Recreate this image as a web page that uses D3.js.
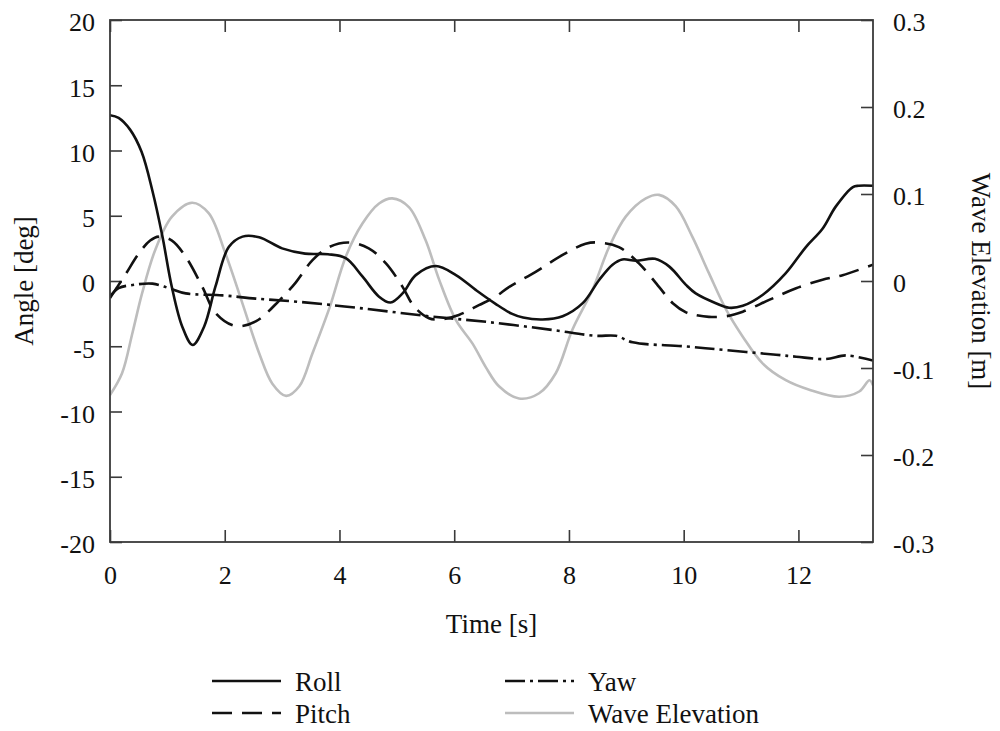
<!DOCTYPE html>
<html>
<head>
<meta charset="utf-8">
<script src="https://cdn.jsdelivr.net/npm/d3@7/dist/d3.min.js"></script>
<style>
  html, body { margin: 0; padding: 0; background: #fff; }
  svg text { font-family: "Liberation Serif", "Times New Roman", serif; fill: #111; }
</style>
</head>
<body>
<svg id="chart" width="1000" height="731"></svg>
<script>
// Time histories: [time (s), value]
const roll = [
  [0, 12.7], [0.15, 12.5], [0.35, 11.6], [0.55, 9.9], [0.74, 6.9], [0.91, 3.5],
  [1.08, -0.5], [1.26, -3.5], [1.44, -4.9], [1.64, -3.5], [1.84, -0.4], [2.07, 2.6],
  [2.31, 3.4], [2.6, 3.35], [3.0, 2.5], [3.4, 2.1], [3.8, 2.05], [4.11, 1.75],
  [4.4, 0.35], [4.69, -1.2], [4.89, -1.65], [5.1, -0.95], [5.33, 0.45], [5.68, 1.15],
  [6.03, 0.45], [6.38, -0.7], [6.72, -1.75], [7.0, -2.5], [7.2, -2.8], [7.54, -2.95],
  [7.89, -2.7], [8.24, -1.7], [8.53, 0.1], [8.76, 1.25], [8.93, 1.65], [9.17, 1.55],
  [9.5, 1.7], [9.75, 1.1], [10.04, -0.3], [10.21, -0.95], [10.56, -1.7], [10.79, -2.05],
  [11.03, -1.9], [11.38, -1.05], [11.78, 0.6], [12.13, 2.6], [12.42, 4.0], [12.65, 5.7],
  [12.95, 7.2], [13.05, 7.3], [13.3, 7.3]
];

const pitch = [
  [0, -1.3], [0.12, -0.5], [0.27, 0.5], [0.5, 2.1], [0.7, 3.1], [0.85, 3.4],
  [1.08, 3.1], [1.32, 1.85], [1.61, -0.45], [1.84, -2.45], [2.19, -3.45], [2.54, -3.1],
  [2.95, -1.5], [3.24, -0.1], [3.53, 1.6], [3.82, 2.6], [4.17, 2.95], [4.51, 2.5],
  [4.81, 1.35], [5.1, -0.45], [5.3, -1.95], [5.56, -2.85], [5.74, -2.95], [6.08, -2.6],
  [6.43, -1.85], [6.72, -1.2], [6.96, -0.45], [7.42, 0.7], [7.89, 2.0], [8.29, 2.85],
  [8.5, 2.95], [8.87, 2.6], [9.22, 1.35], [9.57, -0.45], [9.81, -1.7], [10.04, -2.4],
  [10.15, -2.55], [10.44, -2.75], [10.74, -2.7], [11.03, -2.35], [11.49, -1.45],
  [11.96, -0.55], [12.42, 0.1], [12.77, 0.45], [13.3, 1.25]
];

const yaw = [
  [0, -1.2], [0.15, -0.55], [0.44, -0.28], [0.74, -0.2], [1.03, -0.55], [1.32, -0.95],
  [1.96, -1.1], [2.54, -1.35], [3.3, -1.6], [4.4, -2.1], [5.56, -2.7], [6.6, -3.15],
  [7.71, -3.75], [8.47, -4.2], [8.82, -4.2], [9.11, -4.7], [10.0, -5.0], [10.74, -5.3],
  [11.61, -5.65], [11.96, -5.8], [12.48, -5.98], [12.83, -5.7], [13.3, -6.1]
];

// Wave elevation in metres (right axis)
const wave = [
  [0, -0.131], [0.21, -0.106], [0.39, -0.060], [0.56, -0.014], [0.79, 0.036], [1.08, 0.074],
  [1.43, 0.090], [1.72, 0.078], [2.01, 0.032], [2.31, -0.026], [2.60, -0.083], [2.83, -0.118],
  [3.07, -0.132], [3.30, -0.121], [3.53, -0.083], [3.83, -0.030], [4.11, 0.028], [4.40, 0.066],
  [4.69, 0.089], [4.92, 0.095], [5.21, 0.085], [5.50, 0.047], [5.74, 0.001], [6.03, -0.045],
  [6.32, -0.072], [6.55, -0.099], [6.78, -0.121], [7.13, -0.135], [7.48, -0.129], [7.77, -0.106],
  [8.06, -0.056], [8.41, -0.010], [8.70, 0.039], [8.99, 0.074], [9.34, 0.095], [9.57, 0.099],
  [9.86, 0.086], [10.15, 0.051], [10.44, 0.009], [10.74, -0.033], [11.03, -0.064],
  [11.38, -0.095], [11.78, -0.114], [12.19, -0.125], [12.71, -0.133], [13.06, -0.127],
  [13.24, -0.114], [13.3, -0.120]
];

const timeTicks = [0, 2, 4, 6, 8, 10, 12];
const angleTicks = [20, 15, 10, 5, 0, -5, -10, -15, -20];
const waveTicks = [0.3, 0.2, 0.1, 0, -0.1, -0.2, -0.3];

const legendItems = [
  { name: "Roll", series: "roll" },
  { name: "Pitch", series: "pitch" },
  { name: "Yaw", series: "yaw" },
  { name: "Wave Elevation", series: "wave" }
];

// Layout
const plotL = 110, plotR = 873, plotT = 20, plotB = 542;
const styles = {
  roll:  { stroke: "#111", dash: null },
  pitch: { stroke: "#111", dash: "20,10" },
  yaw:   { stroke: "#111", dash: "20,5,3,5" },
  wave:  { stroke: "#bdbdbd", dash: null }
};

const svg = d3.select("#chart");

const x = d3.scaleLinear().domain([0, 13.3]).range([plotL, plotR]);
const yL = d3.scaleLinear().domain([-20, 20]).range([plotB, plotT]);
const yR = d3.scaleLinear().domain([-0.3, 0.3]).range([plotB, plotT]);

svg.append("defs").append("clipPath").attr("id", "plotClip")
  .append("rect").attr("x", plotL).attr("y", plotT)
  .attr("width", plotR - plotL).attr("height", plotB - plotT);

const fontSize = 26;
const axisColor = "#3a3a3a";
// plain hyphen for negative numbers
const hyphen = s => s.replace("\u2212", "-");

function styleAxis(g) {
  g.select(".domain").remove();
  g.selectAll(".tick line").attr("stroke", axisColor).attr("stroke-width", 1.6);
  g.selectAll(".tick text").style("font-size", fontSize + "px")
    .style("font-family", '"Liberation Serif", "Times New Roman", serif').attr("fill", "#111");
}

// Bottom axis with inward ticks
const gBottom = svg.append("g").attr("transform", `translate(0,${plotB})`)
  .call(d3.axisBottom(x).tickValues(timeTicks).tickSizeInner(-12).tickSizeOuter(0).tickPadding(0)
    .tickFormat(d => String(d)));
styleAxis(gBottom);
gBottom.selectAll(".tick text").attr("y", 42).attr("dy", null);

// Top axis: ticks only
const gTop = svg.append("g").attr("transform", `translate(0,${plotT})`)
  .call(d3.axisTop(x).tickValues(timeTicks).tickSizeInner(-12).tickSizeOuter(0).tickFormat(""));
styleAxis(gTop);

// Left axis
const gLeft = svg.append("g").attr("transform", `translate(${plotL},0)`)
  .call(d3.axisLeft(yL).tickValues(angleTicks).tickSizeInner(-12).tickSizeOuter(0).tickPadding(0)
    .tickFormat(d => hyphen(d3.format("d")(d))));
styleAxis(gLeft);
gLeft.selectAll(".tick text").attr("x", -15).attr("dy", "0.42em");

// Right axis (wave elevation)
const gRight = svg.append("g").attr("transform", `translate(${plotR},0)`)
  .call(d3.axisRight(yR).tickValues(waveTicks).tickSizeInner(-12).tickSizeOuter(0).tickPadding(0)
    .tickFormat(d => d === 0 ? "0" : hyphen(d3.format(".1f")(d))));
styleAxis(gRight);
gRight.selectAll(".tick text").attr("x", 20).attr("dy", "0.42em");

// Series lines
const lineL = d3.line().x(d => x(d[0])).y(d => yL(d[1])).curve(d3.curveCatmullRom.alpha(0.5));
const lineR = d3.line().x(d => x(d[0])).y(d => yR(d[1])).curve(d3.curveCatmullRom.alpha(0.5));

const plot = svg.append("g").attr("clip-path", "url(#plotClip)");

function drawSeries(data, gen, key) {
  const s = styles[key];
  plot.append("path").datum(data)
    .attr("d", gen)
    .attr("fill", "none")
    .attr("stroke", s.stroke)
    .attr("stroke-width", 2.6)
    .attr("stroke-linejoin", "round")
    .attr("stroke-dasharray", s.dash);
}

drawSeries(wave, lineR, "wave");
drawSeries(yaw, lineL, "yaw");
drawSeries(pitch, lineL, "pitch");
drawSeries(roll, lineL, "roll");

// Plot frame
svg.append("rect")
  .attr("x", plotL).attr("y", plotT)
  .attr("width", plotR - plotL).attr("height", plotB - plotT)
  .attr("fill", "none").attr("stroke", axisColor).attr("stroke-width", 1.8);

// Axis titles
svg.append("text")
  .attr("x", (plotL + plotR) / 2).attr("y", 633)
  .attr("text-anchor", "middle").style("font-size", "27px")
  .text("Time [s]");

svg.append("text")
  .attr("transform", `translate(33,${(plotT + plotB) / 2}) rotate(-90)`)
  .attr("text-anchor", "middle").style("font-size", "27px")
  .text("Angle [deg]");

svg.append("text")
  .attr("transform", `translate(972,${(plotT + plotB) / 2}) rotate(90)`)
  .attr("text-anchor", "middle").style("font-size", "27px")
  .text("Wave Elevation [m]");

// Legend (two columns, two rows)
const legendCols = [212, 505];
const legendRows = [681, 713];
legendItems.forEach((item, i) => {
  const col = Math.floor(i / 2), row = i % 2;
  const lx = legendCols[col], ly = legendRows[row];
  const s = styles[item.series];
  svg.append("line")
    .attr("x1", lx).attr("x2", lx + 69)
    .attr("y1", ly).attr("y2", ly)
    .attr("stroke", s.stroke).attr("stroke-width", 2.6)
    .attr("stroke-dasharray", s.dash);
  svg.append("text")
    .attr("x", lx + 83).attr("y", ly + 10)
    .style("font-size", "27px")
    .text(item.name);
});
</script>
</body>
</html>
